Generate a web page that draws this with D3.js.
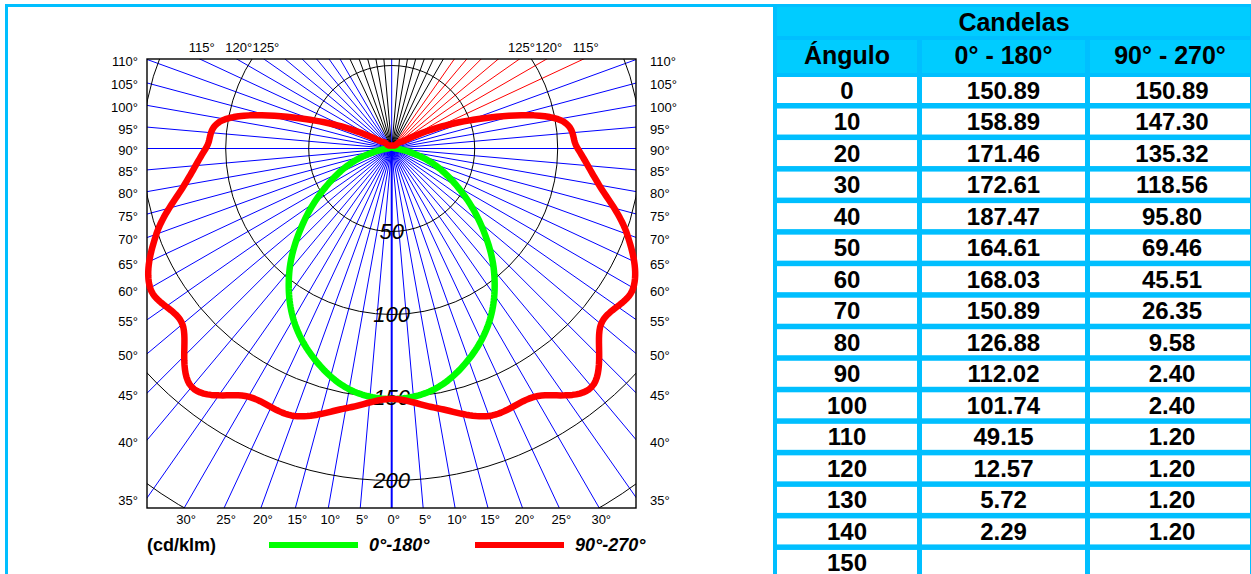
<!DOCTYPE html>
<html>
<head>
<meta charset="utf-8">
<script src="https://cdn.jsdelivr.net/npm/d3@7"></script>
<style>
  body { margin: 0; background: #fff; }
  svg { display: block; font-family: "Liberation Sans", Arial, sans-serif; }
</style>
</head>
<body>
<svg id="chart" width="1251" height="574"></svg>
<script>
// table data (cd/klm)
const angles = [0, 10, 20, 30, 40, 50, 60, 70, 80, 90, 100, 110, 120, 130, 140, 150]
const cd0_180 = [150.89, 158.89, 171.46, 172.61, 187.47, 164.61, 168.03, 150.89, 126.88, 112.02, 101.74, 49.15, 12.57, 5.72, 2.29, null]
const cd90_270 = [150.89, 147.30, 135.32, 118.56, 95.80, 69.46, 45.51, 26.35, 9.58, 2.40, 2.40, 1.20, 1.20, 1.20, 1.20, null]

// polar grid
const rings = [50, 100, 150, 200, 250]
const ringLabels = [50, 100, 150, 200]
const rayAngles = d3.range(0, 181, 5)
const sideTicks = [35, 40, 45, 50, 55, 60, 65, 70, 75, 80, 85, 90, 95, 100, 105, 110]
const bottomTicks = [0, 5, 10, 15, 20, 25, 30]
const topTicks = [115, 120, 125]

const svg = d3.select('#chart')
const frame = { left: 147, right: 636, top: 59, bottom: 508 }
const cx = 391.7, cy = 148.5
const rad = d => d * Math.PI / 180

const r = d3.scaleLinear().domain([0, 200]).range([0, 332])

// cyan outline of the left panel
svg.append('line').attr('x1', 5).attr('x2', 774).attr('y1', 5.5).attr('y2', 5.5)
  .attr('stroke', '#00BFFF').attr('stroke-width', 3)
svg.append('line').attr('x1', 6.5).attr('x2', 6.5).attr('y1', 4).attr('y2', 574)
  .attr('stroke', '#00BFFF').attr('stroke-width', 3)

svg.append('clipPath').attr('id', 'frame-clip')
  .append('rect')
  .attr('x', frame.left).attr('y', frame.top)
  .attr('width', frame.right - frame.left).attr('height', frame.bottom - frame.top)

const grid = svg.append('g').attr('clip-path', 'url(#frame-clip)')

function rayColor(a, side) {
  if (a === 180) return '#0000FF'
  if (side < 0) return a >= 155 ? '#000000' : '#0000FF'
  if (a >= 150) return '#000000'
  if (a >= 115) return '#FF0000'
  return '#0000FF'
}

const rays = []
rayAngles.forEach(a => {
  rays.push({ a, side: -1 })
  if (a !== 0 && a !== 180) rays.push({ a, side: 1 })
})

grid.selectAll('.ray')
  .data(rays)
  .enter()
  .append('line')
  .attr('class', 'ray')
  .attr('x1', cx).attr('y1', cy)
  .attr('x2', d => cx + d.side * 700 * Math.sin(rad(d.a)))
  .attr('y2', d => cy + 700 * Math.cos(rad(d.a)))
  .attr('stroke', d => rayColor(d.a, d.side))
  .attr('stroke-width', d => (d.a === 0 ? 2 : 1))

grid.selectAll('.ring')
  .data(rings)
  .enter()
  .append('circle')
  .attr('cx', cx).attr('cy', cy)
  .attr('r', d => r(d))
  .attr('fill', 'none')
  .attr('stroke', '#000')
  .attr('stroke-width', 1)

svg.selectAll('.ring-label')
  .data(ringLabels)
  .enter()
  .append('text')
  .attr('x', cx)
  .attr('y', d => cy + r(d))
  .attr('dy', '0.36em')
  .attr('text-anchor', 'middle')
  .style('font-size', '22px')
  .style('font-style', 'italic')
  .text(d => d)

svg.append('rect')
  .attr('x', frame.left).attr('y', frame.top)
  .attr('width', frame.right - frame.left).attr('height', frame.bottom - frame.top)
  .attr('fill', 'none').attr('stroke', '#000').attr('stroke-width', 1.4)

// angle labels where rays leave the frame
const halfW = cx - frame.left
svg.selectAll('.lab-left')
  .data(sideTicks)
  .enter()
  .append('text')
  .attr('x', 138)
  .attr('y', d => cy + halfW / Math.tan(rad(d)) + 2)
  .attr('dy', '0.35em')
  .attr('text-anchor', 'end')
  .style('font-size', '13px')
  .text(d => d + '°')

svg.selectAll('.lab-right')
  .data(sideTicks)
  .enter()
  .append('text')
  .attr('x', 650)
  .attr('y', d => cy + halfW / Math.tan(rad(d)) + 2)
  .attr('dy', '0.35em')
  .style('font-size', '13px')
  .text(d => d + '°')

const bottomLabels = []
bottomTicks.forEach(a => {
  bottomLabels.push({ a, side: -1 })
  if (a !== 0) bottomLabels.push({ a, side: 1 })
})
svg.selectAll('.lab-bottom')
  .data(bottomLabels)
  .enter()
  .append('text')
  .attr('x', d => cx + d.side * (frame.bottom - cy) * Math.tan(rad(d.a)) + 2)
  .attr('y', 524)
  .attr('text-anchor', 'middle')
  .style('font-size', '13px')
  .text(d => d.a + '°')

const topLabels = []
topTicks.forEach(a => {
  topLabels.push({ a, side: -1 })
  topLabels.push({ a, side: 1 })
})
svg.selectAll('.lab-top')
  .data(topLabels)
  .enter()
  .append('text')
  .attr('x', d => cx + d.side * (cy - frame.top) * Math.tan(rad(180 - d.a)) + 2)
  .attr('y', 52)
  .attr('text-anchor', 'middle')
  .style('font-size', '13px')
  .text(d => d.a + '°')

// polar curves, mirrored on both sides of nadir
function polarPoints(values) {
  const pts = []
  for (let i = angles.length - 1; i >= 0; i--) {
    if (values[i] == null) continue
    pts.push({ a: Math.PI - rad(angles[i]), v: values[i] })
  }
  for (let i = 1; i < angles.length; i++) {
    if (values[i] == null) continue
    pts.push({ a: Math.PI + rad(angles[i]), v: values[i] })
  }
  return pts
}

// closed Catmull-Rom curve that bends in (angle, radius) space
// so the candela curve is smoothed the way a photometric plot is
function cr(p0, p1, p2, p3, t) {
  const t2 = t * t, t3 = t2 * t
  return 0.5 * (2 * p1 + (p2 - p0) * t + (2 * p0 - 5 * p1 + 4 * p2 - p3) * t2 + (3 * p1 - p0 - 3 * p2 + p3) * t3)
}
function curvePolarClosed(context) {
  let pts
  return {
    areaStart() {},
    areaEnd() {},
    lineStart() { pts = [] },
    point(x, y) { pts.push({ phi: Math.atan2(y, x), rho: Math.hypot(x, y) }) },
    lineEnd() {
      for (let i = 1; i < pts.length; i++) {
        while (pts[i].phi < pts[i - 1].phi) pts[i].phi += 2 * Math.PI
      }
      const n = pts.length
      const get = k => {
        const m = ((k % n) + n) % n
        const turns = Math.floor(k / n)
        return { phi: pts[m].phi + turns * 2 * Math.PI, rho: pts[m].rho }
      }
      const steps = 16
      for (let i = 0; i < n; i++) {
        const p0 = get(i - 1), p1 = get(i), p2 = get(i + 1), p3 = get(i + 2)
        for (let s = 0; s < steps; s++) {
          const t = s / steps
          const phi = cr(p0.phi, p1.phi, p2.phi, p3.phi, t)
          const rho = Math.max(0, cr(p0.rho, p1.rho, p2.rho, p3.rho, t))
          const x = rho * Math.cos(phi), y = rho * Math.sin(phi)
          if (i === 0 && s === 0) context.moveTo(x, y)
          else context.lineTo(x, y)
        }
      }
      context.closePath()
    },
  }
}

const radial = d3.lineRadial()
  .angle(d => d.a)
  .radius(d => r(d.v))
  .curve(curvePolarClosed)

const curves = svg.append('g').attr('transform', `translate(${cx},${cy})`)
curves.append('path')
  .attr('d', radial(polarPoints(cd90_270)))
  .attr('fill', 'none')
  .attr('stroke', '#00FF00')
  .attr('stroke-width', 6.5)
  .attr('stroke-linejoin', 'round')
curves.append('path')
  .attr('d', radial(polarPoints(cd0_180)))
  .attr('fill', 'none')
  .attr('stroke', '#FF0000')
  .attr('stroke-width', 6.5)
  .attr('stroke-linejoin', 'round')

// legend
const legend = svg.append('g').attr('transform', 'translate(0, 545)')
legend.append('text').attr('x', 147).attr('dy', '0.35em')
  .style('font-size', '18px').style('font-weight', 'bold').text('(cd/klm)')
legend.append('line').attr('x1', 269).attr('x2', 358)
  .attr('stroke', '#00FF00').attr('stroke-width', 6)
legend.append('text').attr('x', 369).attr('dy', '0.35em')
  .style('font-size', '18px').style('font-weight', 'bold').style('font-style', 'italic')
  .text('0°-180°')
legend.append('line').attr('x1', 475).attr('x2', 564)
  .attr('stroke', '#FF0000').attr('stroke-width', 6)
legend.append('text').attr('x', 575).attr('dy', '0.35em')
  .style('font-size', '18px').style('font-weight', 'bold').style('font-style', 'italic')
  .text('90°-270°')

// table
const cols = [
  { x0: 777, x1: 917, head: 'Ángulo' },
  { x0: 922, x1: 1085, head: '0° - 180°' },
  { x0: 1090, x1: 1250, head: '90° - 270°' },
]
const table = svg.append('g')
table.append('rect').attr('x', 773).attr('y', 4).attr('width', 478).attr('height', 570)
  .attr('fill', '#00BFFF')
table.append('rect').attr('x', 777).attr('y', 7).attr('width', 473).attr('height', 29)
  .attr('fill', '#00CCFF')
table.append('text').attr('x', 1014).attr('y', 31).attr('text-anchor', 'middle')
  .style('font-size', '25px').style('font-weight', 'bold').text('Candelas')

table.selectAll('.head-cell')
  .data(cols)
  .enter()
  .append('rect')
  .attr('x', d => d.x0).attr('y', 40)
  .attr('width', d => d.x1 - d.x0).attr('height', 33)
  .attr('fill', '#00CCFF')
table.selectAll('.head-text')
  .data(cols)
  .enter()
  .append('text')
  .attr('x', d => (d.x0 + d.x1) / 2)
  .attr('y', 64)
  .attr('text-anchor', 'middle')
  .style('font-size', '25px').style('font-weight', 'bold')
  .text(d => d.head)

const rowY = d3.scaleLinear().domain([0, 1]).range([77, 77 + 31.53])
const fmt = v => (v == null ? '' : v.toFixed(2))
const rows = angles.map((a, i) => [String(a), fmt(cd0_180[i]), fmt(cd90_270[i])])

rows.forEach((row, i) => {
  const g = table.append('g')
  row.forEach((txt, j) => {
    g.append('rect')
      .attr('x', cols[j].x0).attr('y', rowY(i))
      .attr('width', cols[j].x1 - cols[j].x0).attr('height', 26)
      .attr('fill', '#fff')
    g.append('text')
      .attr('x', (cols[j].x0 + cols[j].x1) / 2 + (j === 2 ? 2 : 0))
      .attr('y', Math.min(rowY(i) + 21.5, 570.5))
      .attr('text-anchor', 'middle')
      .style('font-size', '24px').style('font-weight', 'bold')
      .text(txt)
  })
})
</script>
</body>
</html>
